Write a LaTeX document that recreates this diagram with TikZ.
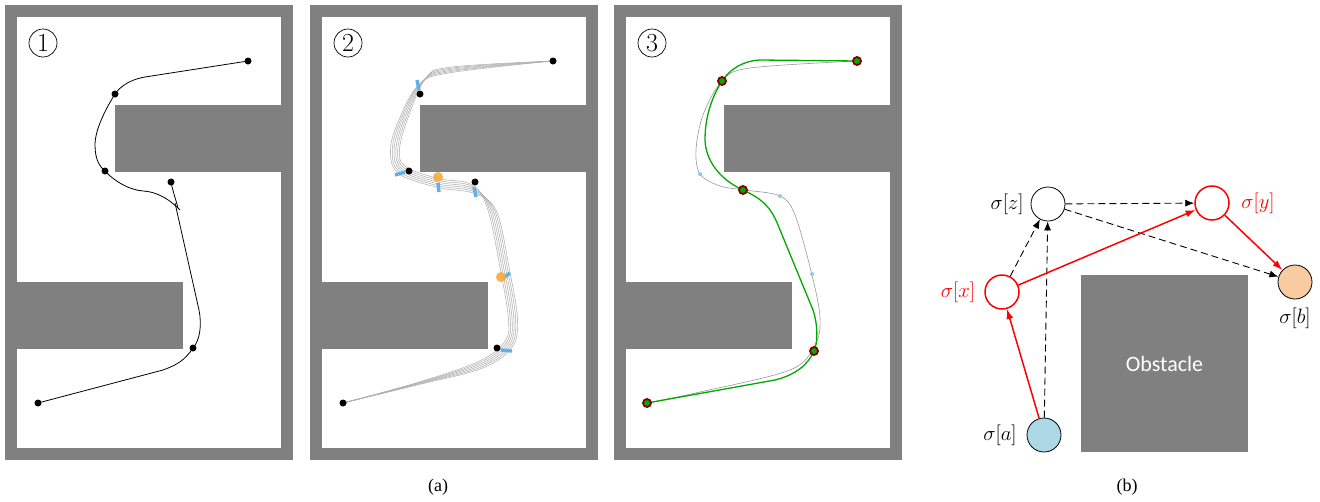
\documentclass[tikz,border=0pt]{standalone}
\usepackage{fontspec}
\newfontfamily\obsfont{Carlito}
\newfontfamily\capfont{Liberation Serif}
\usetikzlibrary{arrows.meta}
\definecolor{obs}{RGB}{128,128,128}
\definecolor{pathgreen}{RGB}{0,170,0}
\definecolor{ringred}{RGB}{130,0,0}
\definecolor{markblue}{RGB}{95,175,235}
\definecolor{dotorange}{RGB}{250,170,60}
\definecolor{peach}{RGB}{248,203,160}
\definecolor{lightblue}{RGB}{173,216,230}
\tikzset{
  wp/.style={circle, fill=black, inner sep=0pt, minimum size=7pt},
  ring/.style={circle, draw=ringred, line width=1.8pt, fill=pathgreen, inner sep=0pt, minimum size=8pt},
  bundle/.style={draw=black!30, line width=0.55pt},
  bmark/.style={draw=markblue, line width=3.4pt},
  odot/.style={circle, fill=dotorange, fill opacity=0.9, inner sep=0pt, minimum size=10pt},
  bdot/.style={circle, fill=markblue!70, inner sep=0pt, minimum size=4pt},
  numcirc/.style={circle, draw=black, line width=0.7pt, minimum size=28pt, inner sep=0pt, font=\fontsize{26}{26}\selectfont},
  bnode/.style={circle, minimum size=34pt, inner sep=0pt, fill=white},
  dasharrow/.style={draw=black, line width=0.9pt, dash pattern=on 7pt off 4pt, -{Latex[length=9pt,width=7pt]}},
  redarrow/.style={draw=red, line width=1.5pt, -{Latex[length=10pt,width=7pt]}},
  slabel/.style={font=\fontsize{21}{23}\selectfont},
  captext/.style={font=\capfont\fontsize{18}{20}\selectfont},
}
\newcommand{\mazeframe}{%
  \fill[obs] (5,5) rectangle (293,460);
  \fill[white] (17,17) rectangle (281,448);
  \fill[obs] (115,105) rectangle (293,172);
  \fill[obs] (5,282) rectangle (183,349);
}
\begin{document}
\begin{tikzpicture}[x=1pt,y=-1pt]
\useasboundingbox (0,0) rectangle (1320,501);
\fill[white] (0,0) rectangle (1320,501);

% ---------- Panel 1 ----------
\begin{scope}
  \mazeframe
  \node[numcirc] (n1) at (43,43) {1};
  \coordinate (a1) at (248,61);
  \coordinate (a2) at (115,94);
  \coordinate (a3) at (105,171);
  \coordinate (a4) at (171,182);
  \coordinate (a5) at (193,348);
  \coordinate (a6) at (38,403);
  \draw[line width=0.8pt] (a1) -- (145,77) .. controls (128,80) and (119,88) .. (a2)
     .. controls (105,110) and (95,130) .. (95,145)
     .. controls (95,160) and (100,167) .. (a3)
     .. controls (115,182) and (130,190) .. (143,191)
     .. controls (160,192) and (172,202) .. (180,210);
  \draw[line width=0.8pt] (a4) .. controls (173,192) and (176,200) .. (178,208);
  \draw[line width=0.8pt] (175,203) -- (199,310) .. controls (202,325) and (200,340) .. (a5)
     .. controls (185,360) and (177,365) .. (163,370) -- (a6);
  \foreach \p in {a1,a2,a3,a4,a5,a6} \node[wp] at (\p) {};
\end{scope}

% ---------- Panel 2 ----------
\begin{scope}[xshift=305pt]
  \mazeframe
  \node[numcirc] (n2) at (43,43) {2};
  \foreach \i in {0,...,5} {
    \draw[bundle] plot[smooth, tension=0.6] coordinates {
      (248,61)
      (145,{70+(\i-2.5)*1.1})
      ({117+(\i-2.5)*-1.4},{82+(\i-2.5)*1.2})
      ({98+(\i-2.5)*-1.8},{120+(\i-2.5)*0.4})
      ({90+(\i-2.5)*-1.8},150)
      ({97+(\i-2.5)*-1.4},{170+(\i-2.5)*1.4})
      (133,{183+(\i-2.5)*1.8})
      ({168+(\i-2.5)*0.6},{189+(\i-2.5)*1.8})
      ({187+(\i-2.5)*1.8},{210+(\i-2.5)*0.6})
      ({200+(\i-2.5)*1.8},270)
      ({208+(\i-2.5)*1.8},320)
      ({203+(\i-2.5)*1.4},{345+(\i-2.5)*1.2})
      ({175+(\i-2.5)*0.6},{365+(\i-2.5)*1.4})
      (115,{383+(\i-2.5)*0.5})
      (38,403)};
  }
  \draw[bmark] (112,80) -- (114,90);
  \draw[bmark] (90,175) -- (100,172);
  \draw[bmark] (133,183) -- (134,192);
  \draw[bmark] (169,187) -- (171,197);
  \draw[bmark] (198,278) -- (205,273);
  \draw[bmark] (196,350) -- (207,351);
  \node[odot] at (133,177) {};
  \node[odot] at (196,277) {};
  \foreach \p in {(248,61),(115,94),(104,171),(170,182),(192,348),(38,403)} \node[wp] at \p {};
\end{scope}

% ---------- Panel 3 ----------
\begin{scope}[xshift=609pt]
  \mazeframe
  \node[numcirc] (n3) at (43,43) {3};
  \coordinate (c1) at (248,61);
  \coordinate (c2) at (113,81);
  \coordinate (c3) at (134,190);
  \coordinate (c4) at (205,351);
  \coordinate (c5) at (38,403);
  \draw[draw=black!40, line width=0.6pt] plot[smooth, tension=0.55] coordinates {
     (248,61) (141,68) (113,81) (94,115) (87,150) (91,174) (111,186) (136,190)
     (171,196) (186,215) (203,275) (211,318) (206,345) (181,370) (91,392) (38,403)};
  \node[bdot] at (91,174) {};
  \node[bdot] at (171,196) {};
  \node[bdot] at (203,274) {};
  \draw[draw=pathgreen, line width=1.3pt] (c1) -- (151,60) .. controls (131,61) and (119,72) .. (c2)
     .. controls (101,100) and (96,120) .. (96,140)
     .. controls (97,165) and (116,182) .. (c3)
     .. controls (151,198) and (161,205) .. (169,225) -- (204,310)
     .. controls (209,325) and (209,343) .. (c4)
     .. controls (199,365) and (186,375) .. (166,380) -- (c5);
  \foreach \p in {c1,c2,c3,c4,c5} \node[ring] at (\p) {};
\end{scope}

% ---------- Panel (b) ----------
\node[fill=obs, minimum width=167pt, minimum height=177pt, inner sep=0pt,
      text=white, font=\obsfont\fontsize{22}{24}\selectfont] (obst) at (1164.5,363.5) {Obstacle};
\node[bnode, draw=black, line width=0.8pt] (z) at (1048,204) {};
\node[bnode, draw=red, line width=1.5pt] (y) at (1212,203) {};
\node[bnode, draw=red, line width=1.5pt] (x) at (1002,292) {};
\node[bnode, draw=black, line width=0.8pt, fill=peach] (b) at (1295,282) {};
\node[bnode, draw=black, line width=0.8pt, fill=lightblue] (a) at (1044,435) {};
\node[slabel] (lz) at (1007,204) {$\sigma[z]$};
\node[slabel, text=red] (ly) at (1258,203) {$\sigma[y]$};
\node[slabel, text=red] (lx) at (958,292) {$\sigma[x]$};
\node[slabel] (lb) at (1295,318) {$\sigma[b]$};
\node[slabel] (la) at (1000,435) {$\sigma[a]$};
\draw[dasharrow] (z) -- (y);
\draw[dasharrow] (z) -- (b);
\draw[dasharrow] (x) -- (z);
\draw[dasharrow] (a) -- (z);
\draw[redarrow] (a) -- (x);
\draw[redarrow] (x) -- (y);
\draw[redarrow] (y) -- (b);

% ---------- Captions ----------
\node[captext] (capa) at (438,487) {(a)};
\node[captext] (capb) at (1127,487) {(b)};
\end{tikzpicture}
\end{document}
